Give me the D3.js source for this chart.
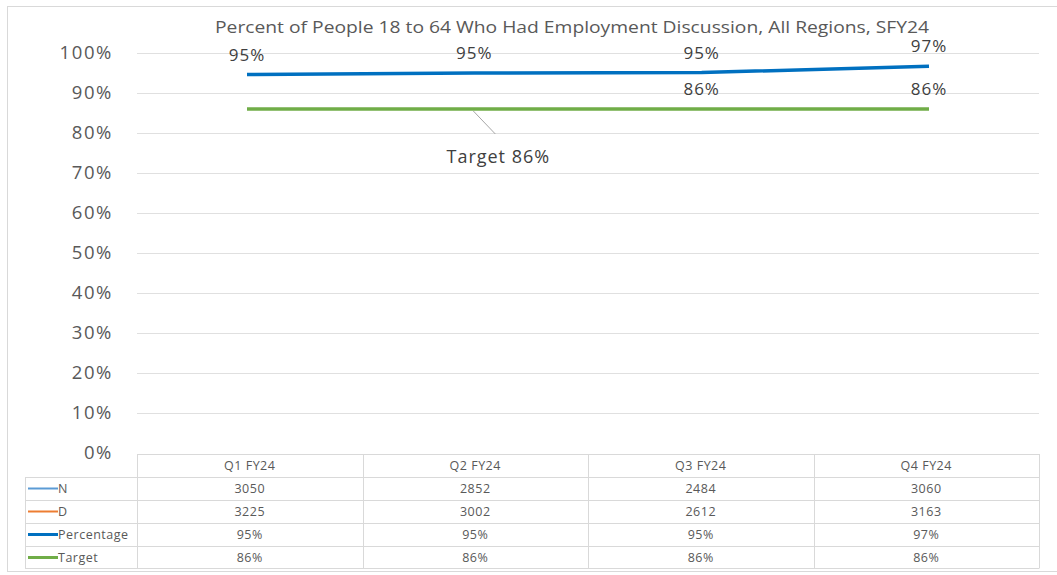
<!DOCTYPE html>
<html>
<head>
<meta charset="utf-8">
<script src="https://cdn.jsdelivr.net/npm/d3@7"></script>
<style>
  body { margin: 0; background: #fff; }
  svg text { font-family: "Open Sans", "Noto Sans", sans-serif; }
</style>
</head>
<body>
<div id="chart"></div>
<script>
// data
var quarters = ["Q1 FY24", "Q2 FY24", "Q3 FY24", "Q4 FY24"];
var nValues = [3050, 2852, 2484, 3060];
var dValues = [3225, 3002, 2612, 3163];
var pctValues = [94.6, 95.0, 95.1, 96.7];
var targetValues = [86, 86, 86, 86];
var pctLabels = ["95%", "95%", "95%", "97%"];
var targetLabels = ["86%", "86%", "86%", "86%"];
var yTicks = [0, 10, 20, 30, 40, 50, 60, 70, 80, 90, 100];

var width = 1057, height = 575;
var margin = {left: 137, right: 18, top: 53, plotBottom: 453};

var svg = d3.select("#chart").append("svg")
  .attr("width", width)
  .attr("height", height);

// outer frame
svg.append("rect")
  .attr("x", 7.5).attr("y", 6.5)
  .attr("width", width).attr("height", 565)
  .style("fill", "none")
  .style("stroke", "#d9d9d9");

var x = d3.scaleBand()
  .domain(quarters)
  .range([margin.left, width - margin.right]);

// line points sit a touch wider than the table columns in the original
var xp = d3.scalePoint()
  .domain(quarters)
  .range([247, 929]);

var y = d3.scaleLinear()
  .domain([0, 100])
  .range([margin.plotBottom, margin.top]);

// title
svg.append("text")
  .attr("x", 572).attr("y", 33)
  .attr("text-anchor", "middle")
  .attr("textLength", 714)
  .attr("lengthAdjust", "spacingAndGlyphs")
  .style("font-size", "16px")
  .style("fill", "#595959")
  .text("Percent of People 18 to 64 Who Had Employment Discussion, All Regions, SFY24");

// gridlines
svg.append("g").selectAll("line")
  .data(yTicks.filter(function(d){ return d > 0; }))
  .enter().append("line")
  .attr("x1", margin.left).attr("x2", width - margin.right)
  .attr("y1", function(d){ return Math.round(y(d)) + 0.5; })
  .attr("y2", function(d){ return Math.round(y(d)) + 0.5; })
  .style("stroke", "#e0e0e0");

// y axis labels
var yAxis = d3.axisLeft(y)
  .tickValues(yTicks)
  .tickSize(0)
  .tickPadding(0)
  .tickFormat(function(d){ return d + "%"; });

var yg = svg.append("g")
  .attr("transform", "translate(113,0)")
  .call(yAxis);
yg.select(".domain").remove();
yg.selectAll("text")
  .style("font-size", "18.5px")
  .style("fill", "#595959")
  .style("letter-spacing", "1.6px")
  .attr("dy", "0.32em");

var cx = function(i){ return x(quarters[i]) + x.bandwidth() / 2; };
var px = function(i){ return xp(quarters[i]); };

var line = d3.line()
  .x(function(d, i){ return px(i); })
  .y(function(d){ return y(d); });

svg.append("path")
  .datum(targetValues)
  .attr("d", line)
  .style("fill", "none")
  .style("stroke", "#70ad47")
  .style("stroke-width", 3.5);

svg.append("path")
  .datum(pctValues)
  .attr("d", line)
  .style("fill", "none")
  .style("stroke", "#0070c0")
  .style("stroke-width", 3.5);

var labelStyle = function(sel){
  sel.attr("text-anchor", "middle")
    .style("font-size", "17px")
    .style("letter-spacing", "1px")
    .style("fill", "#404040");
};

// percentage labels
svg.append("g").selectAll("text")
  .data(pctValues)
  .enter().append("text")
  .attr("x", function(d, i){ return px(i); })
  .attr("y", function(d){ return y(d) - 14; })
  .call(labelStyle)
  .text(function(d, i){ return pctLabels[i]; });

// target labels (Q3, Q4 above the line)
svg.append("g").selectAll("text")
  .data(targetValues.slice(2))
  .enter().append("text")
  .attr("x", function(d, i){ return px(i + 2); })
  .attr("y", function(d){ return y(d) - 14; })
  .call(labelStyle)
  .text(function(d, i){ return targetLabels[i + 2]; });

// callout for Q2 target
var calloutX = px(1), calloutY = y(targetValues[1]);
svg.append("line")
  .attr("x1", calloutX - 1).attr("y1", calloutY + 2)
  .attr("x2", calloutX + 21).attr("y2", calloutY + 25)
  .style("stroke", "#a6a6a6");
svg.append("text")
  .attr("x", calloutX + 24).attr("y", calloutY + 54)
  .call(labelStyle)
  .style("font-size", "18px")
  .text("Target " + targetLabels[1]);

// data table
var rowH = 23;
var tableTop = 454;
var legendLeft = 25;
var rows = [
  {name: "N", color: "#5b9bd5", w: 2, vals: nValues.map(String)},
  {name: "D", color: "#ed7d31", w: 2, vals: dValues.map(String)},
  {name: "Percentage", color: "#0070c0", w: 3, vals: pctLabels},
  {name: "Target", color: "#70ad47", w: 3, vals: targetLabels}
];

var tg = svg.append("g");
var gridColor = "#d9d9d9";
var tableBottom = tableTop + rowH * (rows.length + 1) - 1;
var right = width - margin.right;

// horizontal lines
tg.append("line")
  .attr("x1", margin.left).attr("x2", right)
  .attr("y1", tableTop + 0.5).attr("y2", tableTop + 0.5)
  .style("stroke", gridColor);
d3.range(1, rows.length + 2).forEach(function(k){
  var yy = Math.round(tableTop + k * rowH - (k === rows.length + 1 ? 1 : 0)) + 0.5;
  tg.append("line")
    .attr("x1", legendLeft).attr("x2", right)
    .attr("y1", yy).attr("y2", yy)
    .style("stroke", gridColor);
});
// vertical lines
tg.append("line")
  .attr("x1", legendLeft + 0.5).attr("x2", legendLeft + 0.5)
  .attr("y1", tableTop + rowH).attr("y2", tableBottom + 0.5)
  .style("stroke", gridColor);
quarters.forEach(function(q){
  var xx = Math.round(x(q)) + 0.5;
  tg.append("line")
    .attr("x1", xx).attr("x2", xx)
    .attr("y1", tableTop).attr("y2", tableBottom + 0.5)
    .style("stroke", gridColor);
});
tg.append("line")
  .attr("x1", right + 0.5).attr("x2", right + 0.5)
  .attr("y1", tableTop).attr("y2", tableBottom + 0.5)
  .style("stroke", gridColor);

var cellStyle = function(sel){
  sel.attr("dy", "0.35em")
    .style("font-size", "12.5px")
    .style("letter-spacing", "0.5px")
    .style("fill", "#595959");
};

// header
tg.selectAll("text.hdr")
  .data(quarters)
  .enter().append("text")
  .attr("class", "hdr")
  .attr("x", function(d, i){ return cx(i); })
  .attr("y", tableTop + rowH / 2)
  .attr("text-anchor", "middle")
  .call(cellStyle)
  .text(function(d){ return d; });

rows.forEach(function(r, ri){
  var ry = tableTop + rowH * (ri + 1) + rowH / 2;
  tg.append("line")
    .attr("x1", legendLeft + 3).attr("x2", legendLeft + 33)
    .attr("y1", ry).attr("y2", ry)
    .style("stroke", r.color)
    .style("stroke-width", r.w);
  tg.append("text")
    .attr("x", legendLeft + 33).attr("y", ry)
    .call(cellStyle)
    .text(r.name);
  tg.selectAll(null)
    .data(r.vals)
    .enter().append("text")
    .attr("x", function(d, i){ return cx(i); })
    .attr("y", ry)
    .attr("text-anchor", "middle")
    .call(cellStyle)
    .text(function(d){ return d; });
});
</script>
</body>
</html>
